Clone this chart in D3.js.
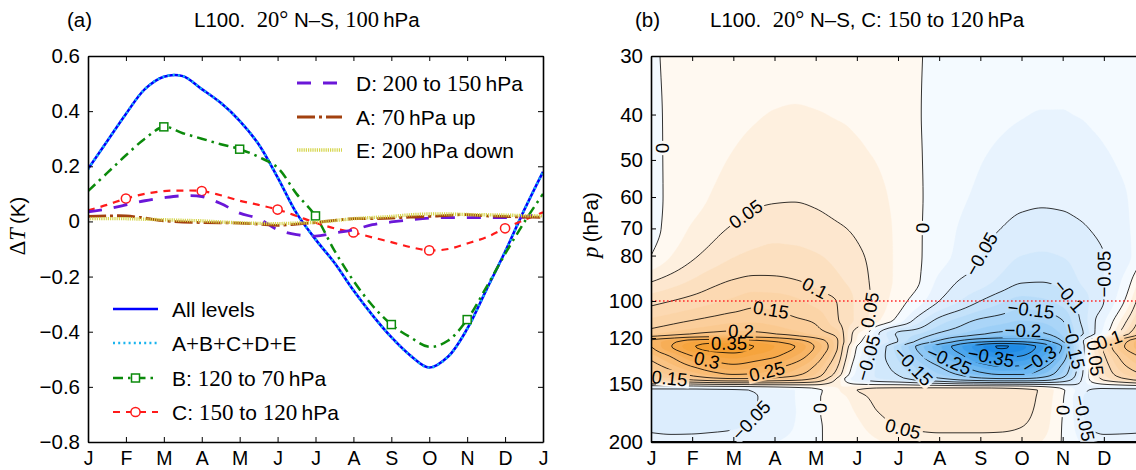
<!DOCTYPE html>
<html>
<head>
<meta charset="utf-8">
<script src="https://cdn.jsdelivr.net/npm/d3@7"></script>
<style>
  html, body { margin: 0; padding: 0; background: #fff; }
  svg { display: block; }
  text { font-family: "Liberation Sans", Arial, Helvetica, sans-serif; fill: #000; white-space: pre; }
  .rm { font-family: "Liberation Serif", "Times New Roman", serif; }
  .it { font-family: "Liberation Serif", "Times New Roman", serif; font-style: italic; }
</style>
</head>
<body>
<svg id="fig" width="1136" height="470" viewBox="0 0 1136 470"></svg>
<script>
// ---------------- panel (a): temperature change at 100 hPa ----------------
const monthTicks = ["J", "F", "M", "A", "M", "J", "J", "A", "S", "O", "N", "D", "J"];
const halfMonths = [0, 0.5, 1, 1.5, 2, 2.5, 3, 3.5, 4, 4.5, 5, 5.5, 6, 6.5, 7, 7.5, 8, 8.5, 9, 9.5, 10, 10.5, 11, 11.5, 12];
const allLevels = [0.19, 0.29, 0.39, 0.48, 0.525, 0.527, 0.48, 0.43, 0.365, 0.28, 0.16, 0.03, -0.065, -0.15, -0.25, -0.34, -0.42, -0.486, -0.53, -0.49, -0.39, -0.25, -0.11, 0.04, 0.18];
const sumABCDE = [0.19, 0.29, 0.39, 0.48, 0.525, 0.527, 0.48, 0.43, 0.365, 0.28, 0.16, 0.03, -0.065, -0.15, -0.25, -0.34, -0.42, -0.486, -0.53, -0.49, -0.39, -0.25, -0.11, 0.04, 0.18];
const layerB = [0.11, 0.175, 0.24, 0.30, 0.343, 0.32, 0.30, 0.28, 0.262, 0.234, 0.195, 0.10, 0.02, -0.106, -0.215, -0.305, -0.374, -0.42, -0.455, -0.432, -0.356, -0.24, -0.118, -0.004, 0.10];
const layerC = [0.04, 0.06, 0.083, 0.10, 0.11, 0.112, 0.11, 0.095, 0.075, 0.06, 0.043, 0.02, -0.005, -0.025, -0.04, -0.058, -0.075, -0.093, -0.105, -0.10, -0.08, -0.058, -0.025, 0.005, 0.033];
const layerD = [0.035, 0.045, 0.06, 0.075, 0.086, 0.093, 0.09, 0.065, 0.03, 0.01, -0.03, -0.048, -0.053, -0.042, -0.03, -0.012, -0.002, 0.006, 0.012, 0.014, 0.014, 0.014, 0.014, 0.016, 0.03];
const layerA = [0.018, 0.02, 0.02, 0.012, 0.002, -0.002, -0.004, -0.005, -0.006, -0.01, -0.014, -0.01, -0.004, 0.004, 0.01, 0.01, 0.012, 0.016, 0.018, 0.022, 0.025, 0.02, 0.018, 0.016, 0.015];
const layerE = [0.01, 0.01, 0.01, 0.008, 0.006, 0.004, 0.002, -0.002, -0.005, -0.007, -0.008, -0.006, -0.003, 0.003, 0.01, 0.014, 0.018, 0.024, 0.027, 0.027, 0.025, 0.024, 0.023, 0.021, 0.02];
const markerMonthsB = [2, 4, 6, 8, 10];
const markerMonthsC = [1, 3, 5, 7, 9, 11];
const yTicksA = [0.6, 0.4, 0.2, 0, -0.2, -0.4, -0.6, -0.8];

// ---------------- panel (b): response to layer C, month x pressure ----------------
const pressureTicks = [30, 40, 50, 60, 70, 80, 100, 120, 150, 200];
const fieldMonths = [0, 0.5, 1, 1.5, 2, 2.5, 3, 3.5, 4, 4.5, 4.75, 5, 5.25, 5.5, 6, 6.5, 7, 7.5, 8, 8.5, 9, 9.5, 10, 10.25, 10.5, 10.75, 11, 11.5, 12];
const fieldLevels = [30, 40, 50, 60, 70, 80, 90, 100, 110, 117.5, 122, 125, 131, 138, 144, 146.5, 155, 160, 172, 186, 200];
const fieldValues = [
  [-0.004, 0.004, 0.006, 0.009, 0.012, 0.014, 0.016, 0.017, 0.016, 0.015, 0.014, 0.013, 0.012, 0.011, 0.006, 0.001, -0.004, -0.008, -0.011, -0.013, -0.015, -0.016, -0.016, -0.016, -0.015, -0.014, -0.013, -0.010, -0.004],
  [-0.006, 0.004, 0.009, 0.014, 0.019, 0.023, 0.026, 0.027, 0.026, 0.024, 0.023, 0.021, 0.019, 0.017, 0.010, 0.001, -0.006, -0.012, -0.017, -0.021, -0.024, -0.026, -0.026, -0.025, -0.024, -0.022, -0.020, -0.015, -0.006],
  [-0.008, 0.005, 0.012, 0.020, 0.027, 0.033, 0.037, 0.038, 0.037, 0.034, 0.032, 0.030, 0.027, 0.024, 0.014, 0.002, -0.008, -0.017, -0.024, -0.030, -0.035, -0.037, -0.036, -0.035, -0.033, -0.031, -0.028, -0.021, -0.008],
  [-0.010, 0.006, 0.015, 0.027, 0.036, 0.044, 0.047, 0.048, 0.046, 0.042, 0.040, 0.038, 0.035, 0.031, 0.018, 0.003, -0.010, -0.021, -0.030, -0.038, -0.044, -0.046, -0.045, -0.044, -0.042, -0.039, -0.035, -0.027, -0.010],
  [-0.010, 0.010, 0.028, 0.042, 0.053, 0.062, 0.066, 0.064, 0.059, 0.053, 0.050, 0.046, 0.041, 0.036, 0.020, 0.003, -0.013, -0.027, -0.040, -0.050, -0.058, -0.060, -0.058, -0.055, -0.052, -0.048, -0.043, -0.030, -0.010],
  [0.000, 0.025, 0.045, 0.060, 0.073, 0.080, 0.083, 0.082, 0.077, 0.068, 0.062, 0.055, 0.048, 0.040, 0.020, 0.003, -0.015, -0.032, -0.050, -0.064, -0.075, -0.078, -0.074, -0.070, -0.064, -0.057, -0.050, -0.035, 0.000],
  [0.045, 0.060, 0.075, 0.090, 0.100, 0.105, 0.104, 0.100, 0.092, 0.080, 0.072, 0.063, 0.052, 0.040, 0.020, 0.002, -0.030, -0.050, -0.062, -0.080, -0.095, -0.097, -0.090, -0.080, -0.070, -0.060, -0.050, -0.020, 0.045],
  [0.090, 0.100, 0.110, 0.120, 0.130, 0.140, 0.138, 0.130, 0.115, 0.100, 0.085, 0.070, 0.055, 0.040, 0.012, -0.015, -0.050, -0.075, -0.100, -0.120, -0.135, -0.130, -0.115, -0.100, -0.085, -0.068, -0.050, 0.000, 0.090],
  [0.130, 0.140, 0.150, 0.160, 0.168, 0.170, 0.165, 0.155, 0.145, 0.105, 0.085, 0.070, 0.050, 0.030, -0.010, -0.065, -0.110, -0.135, -0.155, -0.165, -0.175, -0.170, -0.150, -0.120, -0.090, -0.055, -0.030, 0.040, 0.130],
  [0.170, 0.185, 0.200, 0.210, 0.215, 0.210, 0.200, 0.185, 0.165, 0.140, 0.080, 0.030, 0.000, -0.045, -0.105, -0.125, -0.155, -0.175, -0.195, -0.210, -0.215, -0.205, -0.170, -0.130, -0.100, -0.055, -0.015, 0.080, 0.170],
  [0.26, 0.29, 0.32, 0.33, 0.33, 0.315, 0.30, 0.275, 0.23, 0.16, 0.08, 0.02, -0.02, -0.045, -0.10, -0.16, -0.21, -0.26, -0.29, -0.30, -0.295, -0.27, -0.20, -0.13, -0.05, 0.04, 0.10, 0.19, 0.26],
  [0.25, 0.30, 0.345, 0.37, 0.375, 0.35, 0.325, 0.30, 0.245, 0.16, 0.065, 0.0, -0.035, -0.07, -0.14, -0.21, -0.27, -0.32, -0.37, -0.405, -0.385, -0.33, -0.245, -0.16, -0.06, 0.045, 0.11, 0.20, 0.25],
  [0.215, 0.255, 0.30, 0.325, 0.335, 0.32, 0.305, 0.275, 0.225, 0.14, 0.05, -0.01, -0.045, -0.08, -0.13, -0.19, -0.245, -0.29, -0.34, -0.36, -0.35, -0.305, -0.225, -0.15, -0.055, 0.04, 0.095, 0.17, 0.215],
  [0.18, 0.215, 0.25, 0.275, 0.29, 0.28, 0.26, 0.235, 0.195, 0.11, 0.03, -0.025, -0.055, -0.08, -0.115, -0.16, -0.20, -0.24, -0.28, -0.30, -0.295, -0.26, -0.19, -0.13, -0.05, 0.035, 0.08, 0.145, 0.18],
  [0.15, 0.175, 0.205, 0.23, 0.245, 0.24, 0.225, 0.205, 0.17, 0.08, 0.01, -0.035, -0.06, -0.08, -0.10, -0.14, -0.17, -0.20, -0.23, -0.245, -0.245, -0.22, -0.165, -0.115, -0.045, 0.03, 0.07, 0.12, 0.15],
  [0.13, 0.145, 0.17, 0.19, 0.20, 0.20, 0.19, 0.175, 0.145, 0.05, -0.01, -0.045, -0.06, -0.075, -0.09, -0.12, -0.145, -0.17, -0.19, -0.20, -0.20, -0.185, -0.14, -0.10, -0.04, 0.025, 0.06, 0.10, 0.13],
  [-0.06, -0.06, -0.06, -0.058, -0.055, -0.048, -0.038, -0.025, -0.008, 0.02, 0.035, 0.05, 0.058, 0.062, 0.066, 0.068, 0.07, 0.07, 0.07, 0.068, 0.062, 0.045, 0.005, -0.02, -0.042, -0.055, -0.06, -0.06, -0.06],
  [-0.07, -0.07, -0.068, -0.065, -0.06, -0.052, -0.04, -0.025, -0.004, 0.012, 0.025, 0.038, 0.05, 0.058, 0.065, 0.068, 0.07, 0.07, 0.07, 0.068, 0.062, 0.043, 0.003, -0.025, -0.05, -0.063, -0.07, -0.07, -0.07],
  [-0.065, -0.068, -0.066, -0.063, -0.058, -0.051, -0.04, -0.026, -0.003, 0.008, 0.017, 0.028, 0.04, 0.05, 0.06, 0.064, 0.066, 0.066, 0.066, 0.064, 0.058, 0.04, 0.0, -0.025, -0.05, -0.062, -0.068, -0.068, -0.065],
  [-0.055, -0.058, -0.057, -0.055, -0.052, -0.046, -0.036, -0.024, -0.003, 0.005, 0.011, 0.018, 0.028, 0.037, 0.05, 0.054, 0.056, 0.056, 0.056, 0.055, 0.05, 0.035, -0.002, -0.022, -0.045, -0.054, -0.058, -0.057, -0.055],
  [-0.04, -0.04, -0.04, -0.038, -0.036, -0.032, -0.026, -0.018, -0.002, 0.003, 0.006, 0.01, 0.016, 0.022, 0.032, 0.036, 0.038, 0.038, 0.038, 0.037, 0.034, 0.024, -0.002, -0.015, -0.03, -0.037, -0.04, -0.04, -0.04]
];
const lineLevels = [-0.4, -0.35, -0.3, -0.25, -0.2, -0.15, -0.1, -0.05, 0, 0.05, 0.1, 0.15, 0.2, 0.25, 0.3, 0.35, 0.4];
// contour label anchors: [level, month, pressure]
const contourLabels = [
  [0, 0.15, 47], [0.05, 2.3, 65], [0.1, 4.0, 93], [0.15, 2.9, 108], [0.2, 2.2, 115],
  [0.35, 1.9, 125], [0.3, 1.36, 135], [0.25, 2.8, 139], [0.15, 0.45, 145], [0.05, 5.27, 104],
  [0, 6.62, 70], [-0.05, 2.4, 179], [0, 3.9, 170], [0.05, 6.1, 188],
  [-0.05, 8.0, 79], [-0.05, 11.05, 88], [-0.1, 10.25, 96], [-0.15, 9.2, 105.5], [-0.2, 9.05, 113],
  [-0.35, 8.3, 129], [-0.3, 9.35, 129], [-0.25, 7.25, 134], [-0.15, 6.5, 135], [-0.05, 5.6, 135],
  [-0.15, 10.35, 124], [0, 9.9, 170], [-0.05, 10.8, 176], [0.05, 10.9, 132], [0.1, 11.2, 126]
];

// ---------------- drawing ----------------
const W = 1136, H = 470;
const svg = d3.select("#fig");
const defs = svg.append("defs");
const minus = "\u2212";

function richText(g, x, y, parts, size, anchor) {
  const t = g.append("text").attr("x", x).attr("y", y).attr("font-size", size)
    .attr("text-anchor", anchor || "start");
  parts.forEach(([s, kind]) => {
    const ts = t.append("tspan").text(s);
    if (kind) ts.attr("class", kind).attr("font-size", size * 1.1);
  });
  return t;
}

function styleAxis(g, size) {
  g.attr("font-size", size).attr("font-family", "Liberation Sans, Arial, sans-serif");
  g.select(".domain").attr("stroke-width", 1.6);
  g.selectAll(".tick line").attr("stroke-width", 1);
}

// ---- panel (a) ----
const A = { x0: 88, x1: 543, y0: 56, y1: 442 };
const xA = d3.scaleLinear().domain([0, 12]).range([A.x0, A.x1]);
const yA = d3.scaleLinear().domain([-0.8, 0.6]).range([A.y1, A.y0]);
const fmtA = v => v === 0 ? "0" : (v < 0 ? minus : "") + Math.abs(v).toFixed(1);
const gA = svg.append("g");

defs.append("clipPath").attr("id", "clipA").append("rect")
  .attr("x", A.x0).attr("y", A.y0).attr("width", A.x1 - A.x0).attr("height", A.y1 - A.y0);

const seriesStyle = {
  all: { color: "#0000ff", width: 2.6, dash: null },
  sum: { color: "#1ab4ee", width: 2.6, dash: "2 3.2" },
  B: { color: "#0b8a0b", width: 2.5, dash: "10 5 2.5 5" },
  C: { color: "#ff1a1a", width: 2.2, dash: "7 6" },
  D: { color: "#6a17d8", width: 2.8, dash: "14 12" },
  A: { color: "#a2410f", width: 2.8, dash: "18 4 3 4" },
  E: { color: "#d5d54c", width: 3.4, dash: "1.2 1" }
};
const drawOrder = [["all", allLevels], ["sum", sumABCDE], ["B", layerB], ["C", layerC], ["D", layerD], ["A", layerA], ["E", layerE]];

function drawMarker(g, key, x, y) {
  const s = seriesStyle[key];
  if (key === "B") {
    g.append("rect").attr("x", x - 4).attr("y", y - 4).attr("width", 8).attr("height", 8)
      .attr("fill", "#fff").attr("stroke", s.color).attr("stroke-width", 1.5);
  } else {
    g.append("circle").attr("cx", x).attr("cy", y).attr("r", 4.6)
      .attr("fill", "#fff").attr("stroke", s.color).attr("stroke-width", 1.5);
  }
}

const lineA = d3.line().x((d, i) => xA(halfMonths[i])).y(d => yA(d)).curve(d3.curveCatmullRom.alpha(0.5));
const plotA = gA.append("g").attr("clip-path", "url(#clipA)");
drawOrder.forEach(([key, vals]) => {
  const s = seriesStyle[key];
  plotA.append("path").datum(vals).attr("d", lineA).attr("fill", "none")
    .attr("stroke", s.color).attr("stroke-width", s.width)
    .attr("stroke-dasharray", s.dash);
  if (key === "B" || key === "C") {
    const months = key === "B" ? markerMonthsB : markerMonthsC;
    months.forEach(m => {
      const v = vals[halfMonths.indexOf(m)];
      drawMarker(plotA, key, xA(m), yA(v));
    });
  }
});

// axes of panel (a)
gA.append("g").attr("transform", `translate(0,${A.y1})`)
  .call(d3.axisBottom(xA).tickValues(d3.range(13)).tickFormat(i => monthTicks[i]).tickSizeInner(-5).tickSizeOuter(0).tickPadding(9))
  .call(g => styleAxis(g, 19.5));
gA.append("g").attr("transform", `translate(0,${A.y0})`)
  .call(d3.axisTop(xA).tickValues(d3.range(13)).tickFormat("").tickSizeInner(-5).tickSizeOuter(0))
  .call(g => styleAxis(g, 19.5));
gA.append("g").attr("transform", `translate(${A.x0},0)`)
  .call(d3.axisLeft(yA).tickValues(yTicksA).tickFormat(fmtA).tickSizeInner(-5).tickSizeOuter(0).tickPadding(8))
  .call(g => styleAxis(g, 20.5));
gA.append("g").attr("transform", `translate(${A.x1},0)`)
  .call(d3.axisRight(yA).tickValues(yTicksA).tickFormat("").tickSizeInner(-5).tickSizeOuter(0))
  .call(g => styleAxis(g, 20.5));

// legends of panel (a)
const legendUpper = [
  ["D", [["D: ", ""], ["200", "rm"], [" to ", ""], ["150", "rm"], ["\u2009hPa", ""]]],
  ["A", [["A: ", ""], ["70", "rm"], ["\u2009hPa up", ""]]],
  ["E", [["E: ", ""], ["200", "rm"], ["\u2009hPa down", ""]]]
];
const legendLower = [
  ["all", [["All levels", ""]]],
  ["sum", [["A", ""], ["+", "rm"], ["B", ""], ["+", "rm"], ["C", ""], ["+", "rm"], ["D", ""], ["+", "rm"], ["E", ""]]],
  ["B", [["B: ", ""], ["120", "rm"], [" to ", ""], ["70", "rm"], ["\u2009hPa", ""]]],
  ["C", [["C: ", ""], ["150", "rm"], [" to ", ""], ["120", "rm"], ["\u2009hPa", ""]]]
];
function drawLegend(items, lx0, lx1, tx, ys) {
  items.forEach(([key, parts], i) => {
    const s = seriesStyle[key], y = ys[i];
    gA.append("line").attr("x1", lx0).attr("x2", lx1).attr("y1", y).attr("y2", y)
      .attr("stroke", s.color).attr("stroke-width", s.width).attr("stroke-dasharray", s.dash);
    if (key === "B" || key === "C") drawMarker(gA, key, (lx0 + lx1) / 2, y);
    richText(gA, tx, y + 7.5, parts, 21);
  });
}
drawLegend(legendUpper, 297, 342, 356, [83, 117, 150]);
drawLegend(legendLower, 113, 158, 172, [309, 343, 378, 412]);

// titles and axis label of panel (a)
richText(svg, 67, 27, [["(a)", ""]], 20.5);
richText(svg, 194, 27, [["L100.  ", ""], ["20\u00b0", "rm"], [" N\u2013S, ", ""], ["100", "rm"], ["\u2009hPa", ""]], 20.5);
richText(svg.append("g").attr("transform", "translate(25,226) rotate(-90)"), 0, 0,
  [["\u0394", "rm"], ["T", "it"], ["\u2009(K)", ""]], 20.5, "middle");

// ---- panel (b) ----
const B = { x0: 651, x1: 1145, y0: 56, y1: 442 };
const xB = d3.scaleLinear().domain([0, 12]).range([B.x0, B.x1]);
const yB = d3.scaleLog().domain([30, 200]).range([B.y0, B.y1]);
const gB = svg.append("g");
defs.append("clipPath").attr("id", "clipB").append("rect")
  .attr("x", B.x0).attr("y", B.y0).attr("width", B.x1 - B.x0).attr("height", B.y1 - B.y0);

// shape-preserving cubic through tabulated points, used to resample the table for smooth isolines
function monotoneInterp(xs, ys) {
  const n = xs.length, d = [], m = new Array(n);
  for (let i = 0; i < n - 1; i++) d[i] = (ys[i + 1] - ys[i]) / (xs[i + 1] - xs[i]);
  m[0] = d[0]; m[n - 1] = d[n - 2];
  for (let i = 1; i < n - 1; i++) {
    if (d[i - 1] * d[i] <= 0) { m[i] = 0; continue; }
    const h0 = xs[i] - xs[i - 1], h1 = xs[i + 1] - xs[i];
    const w1 = 2 * h1 + h0, w2 = h1 + 2 * h0;
    m[i] = (w1 + w2) / (w1 / d[i - 1] + w2 / d[i]);
  }
  const bis = d3.bisector(v => v).right;
  return x => {
    const i = Math.max(0, Math.min(n - 2, bis(xs, x) - 1));
    const h = xs[i + 1] - xs[i], s = (x - xs[i]) / h, s2 = s * s, s3 = s2 * s;
    return (2 * s3 - 3 * s2 + 1) * ys[i] + (s3 - 2 * s2 + s) * h * m[i]
      + (-2 * s3 + 3 * s2) * ys[i + 1] + (s3 - s2) * h * m[i + 1];
  };
}

const STEP = 2;
const nx = Math.floor((B.x1 - B.x0) / STEP) + 1;
const ny = Math.floor((B.y1 - B.y0) / STEP) + 1;
const gridT = d3.range(nx).map(i => xB.invert(B.x0 + i * STEP));
const gridY = d3.range(ny).map(j => B.y0 + j * STEP);
const levelY = fieldLevels.map(p => yB(p));
const rowsDense = fieldValues.map(row => gridT.map(monotoneInterp(fieldMonths, row)));
const dense = new Float64Array(nx * ny);
for (let i = 0; i < nx; i++) {
  const f = monotoneInterp(levelY, rowsDense.map(r => r[i]));
  for (let j = 0; j < ny; j++) dense[j * nx + i] = f(gridY[j]);
}

const toPx = (x, y) => [
  Math.max(B.x0, Math.min(B.x1, B.x0 + (x - 0.5) * STEP)),
  Math.max(B.y0, Math.min(B.y1, B.y0 + (y - 0.5) * STEP))
];
const pathB = d3.geoPath(d3.geoTransform({ point(x, y) { const p = toPx(x, y); this.stream.point(p[0], p[1]); } }));
const cgen = d3.contours().size([nx, ny]).smooth(true);

const warm = d3.scaleLinear().domain([0, 0.05, 0.1, 0.2, 0.3, 0.4])
  .range(["#fffdfa", "#fdebd6", "#fcdcb8", "#fac68a", "#f7ab50", "#f4981e"]).clamp(true);
const cool = d3.scaleLinear().domain([0, -0.05, -0.1, -0.2, -0.3, -0.4])
  .range(["#fafdff", "#e2f0fd", "#cbe5fb", "#96ccf6", "#53aaee", "#1787e5"]).clamp(true);
const shade = v => v >= 0 ? warm(v) : cool(v);
const bandStep = 0.025;
const bandEdges = d3.range(-16, 17).map(k => k * bandStep);

const fillG = gB.append("g").attr("clip-path", "url(#clipB)");
fillG.append("rect").attr("x", B.x0).attr("y", B.y0).attr("width", B.x1 - B.x0).attr("height", B.y1 - B.y0)
  .attr("fill", shade(-0.4));
bandEdges.forEach(th => {
  fillG.append("path").attr("d", pathB(cgen.contour(dense, th)))
    .attr("fill", shade(th + bandStep / 2)).attr("stroke", shade(th + bandStep / 2)).attr("stroke-width", 0.3);
});

// contour lines with gaps under their labels
const mask = defs.append("mask").attr("id", "lblMask").attr("maskUnits", "userSpaceOnUse")
  .attr("x", 0).attr("y", 0).attr("width", W).attr("height", H);
mask.append("rect").attr("width", W).attr("height", H).attr("fill", "#fff");
const lineG = gB.append("g").attr("clip-path", "url(#clipB)");
const lineInner = lineG.append("g").attr("mask", "url(#lblMask)");
const isoByLevel = new Map();
lineLevels.forEach(lv => {
  const geom = cgen.contour(dense, lv);
  isoByLevel.set(lv, geom);
  lineInner.append("path").attr("d", pathB(geom)).attr("fill", "none")
    .attr("stroke", "#000").attr("stroke-width", 0.8);
});

const labelG = lineG.append("g");
const fmtB = v => v === 0 ? "0" : (v < 0 ? minus : "") + String(+Math.abs(v).toFixed(2));
contourLabels.forEach(([lv, m, p]) => {
  const geom = isoByLevel.get(lv);
  if (!geom) return;
  const hx = xB(m), hy = yB(p);
  let best = null;
  geom.coordinates.forEach(poly => poly.forEach(ring => {
    const pts = ring.map(([x, y]) => toPx(x, y));
    pts.forEach((q, k) => {
      if (q[0] <= B.x0 + 2 || q[0] >= B.x1 - 2 || q[1] <= B.y0 + 2 || q[1] >= B.y1 - 2) return;
      const dd = (q[0] - hx) ** 2 + (q[1] - hy) ** 2;
      if (!best || dd < best.dd) best = { dd, pts, k };
    });
  }));
  if (!best || best.dd > 30 * 30) return;
  const { pts, k } = best, n = pts.length;
  const a = pts[(k - 4 + n) % n], b = pts[(k + 4) % n], c = pts[k];
  let ang = Math.atan2(b[1] - a[1], b[0] - a[0]) * 180 / Math.PI;
  if (ang > 90) ang -= 180;
  if (ang < -90) ang += 180;
  const tf = `translate(${c[0]},${c[1]}) rotate(${ang})`;
  const t = labelG.append("text").attr("transform", tf).attr("text-anchor", "middle")
    .attr("dy", "0.36em").attr("font-size", 18.5).text(fmtB(lv));
  const w = t.node().getComputedTextLength();
  mask.append("rect").attr("transform", tf).attr("x", -w / 2 - 2).attr("y", -8.5)
    .attr("width", w + 4).attr("height", 17).attr("fill", "#000");
});

// 100 hPa reference level
gB.append("line").attr("x1", B.x0).attr("x2", B.x1).attr("y1", yB(100)).attr("y2", yB(100))
  .attr("stroke", "#ff2a2a").attr("stroke-width", 1.4).attr("stroke-dasharray", "1.6 2.4");

// axes of panel (b); the last month sits beyond the visible edge
gB.append("g").attr("transform", `translate(0,${B.y1})`)
  .call(d3.axisBottom(xB).tickValues(d3.range(13)).tickFormat(i => i < 12 ? monthTicks[i] : "").tickSizeInner(-5).tickSizeOuter(0).tickPadding(9))
  .call(g => styleAxis(g, 19.5));
gB.append("g").attr("transform", `translate(0,${B.y0})`)
  .call(d3.axisTop(xB).tickValues(d3.range(13)).tickFormat("").tickSizeInner(-5).tickSizeOuter(0))
  .call(g => styleAxis(g, 19.5));
gB.append("g").attr("transform", `translate(${B.x0},0)`)
  .call(d3.axisLeft(yB).tickValues(pressureTicks).tickFormat(d => String(d)).tickSizeInner(-5).tickSizeOuter(0).tickPadding(8))
  .call(g => styleAxis(g, 20.5));
gB.append("g").attr("transform", `translate(${B.x1},0)`)
  .call(d3.axisRight(yB).tickValues(pressureTicks).tickFormat("").tickSizeInner(-5).tickSizeOuter(0))
  .call(g => styleAxis(g, 20.5));

richText(svg, 635, 27, [["(b)", ""]], 20.5);
richText(svg, 710, 27, [["L100.  ", ""], ["20\u00b0", "rm"], [" N\u2013S, C: ", ""], ["150", "rm"], [" to ", ""], ["120", "rm"], ["\u2009hPa", ""]], 20.5);
richText(svg.append("g").attr("transform", "translate(598,225) rotate(-90)"), 0, 0,
  [["p", "it"], ["\u2009(hPa)", ""]], 20.5, "middle");
</script>
</body>
</html>
